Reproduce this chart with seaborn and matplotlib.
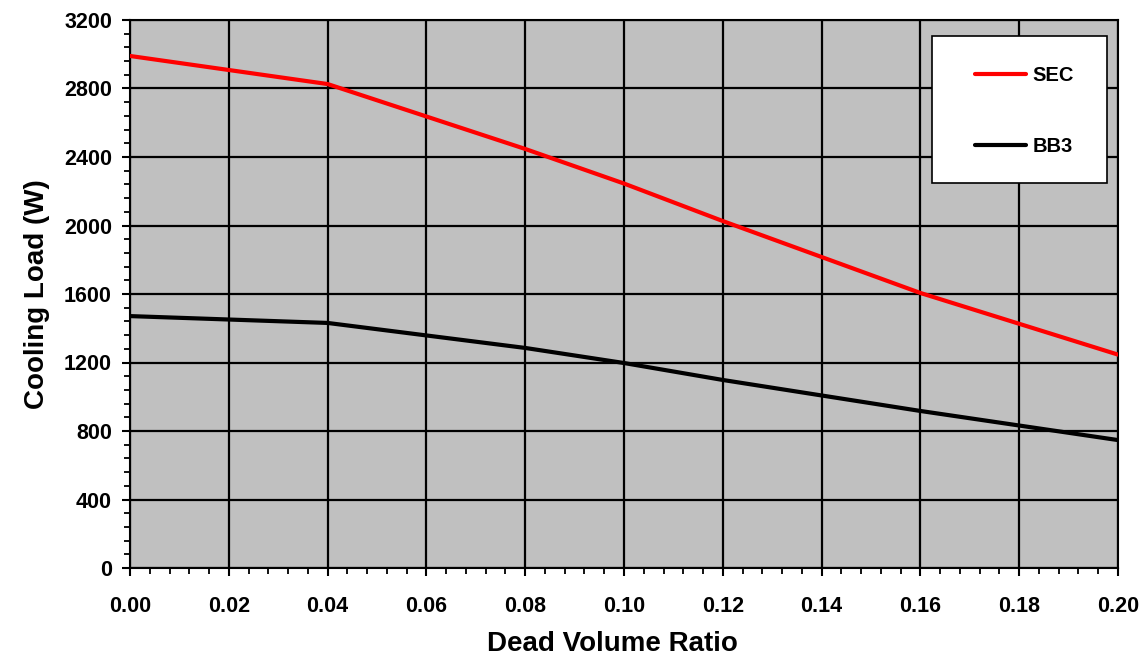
import matplotlib
matplotlib.use("Agg")
import matplotlib.pyplot as plt
from matplotlib.ticker import MultipleLocator, FormatStrFormatter
from matplotlib.lines import Line2D
from matplotlib.patches import Rectangle
import seaborn as sns
import pandas as pd

x_vals = [0.00, 0.04, 0.08, 0.10, 0.12, 0.16, 0.20]
sec_vals = [2990, 2826, 2447, 2245, 2026, 1606, 1246]
bb3_vals = [1471, 1431, 1285, 1197, 1098, 917, 747]
series_names = ["SEC", "BB3"]
colors = ["#FF0000", "#000000"]

df = pd.concat([
    pd.DataFrame({"x": x_vals, "y": sec_vals, "series": "SEC"}),
    pd.DataFrame({"x": x_vals, "y": bb3_vals, "series": "BB3"}),
])

sns.set_style("white")
plt.rcParams["font.family"] = ["Liberation Sans", "DejaVu Sans"]
plt.rcParams["font.weight"] = "bold"
plt.rcParams.update({
    "text.color": "black", "axes.labelcolor": "black",
    "xtick.color": "black", "ytick.color": "black",
    "xtick.bottom": True, "ytick.left": True,
})

fig = plt.figure(figsize=(11.42, 6.56), dpi=100)
ax = fig.add_axes([130/1142, 1-568/656, 988/1142, 548/656])
ax.set_facecolor("#C0C0C0")

sns.lineplot(data=df, x="x", y="y", hue="series", hue_order=series_names,
             palette=colors, linewidth=3, ax=ax, legend=False, zorder=3)

ax.set_xlim(0, 0.2)
ax.set_ylim(0, 3200)
ax.xaxis.set_major_locator(MultipleLocator(0.02))
ax.xaxis.set_minor_locator(MultipleLocator(0.004))
ax.yaxis.set_major_locator(MultipleLocator(400))
ax.yaxis.set_minor_locator(MultipleLocator(80))
ax.xaxis.set_major_formatter(FormatStrFormatter("%.2f"))
ax.grid(True, which="major", color="black", linewidth=1.6, zorder=1)
ax.set_axisbelow(True)
for s in ax.spines.values():
    s.set_color("black")
    s.set_linewidth(1.5)

ax.tick_params(axis="both", which="major", direction="out", length=6, width=1.5,
               labelsize=15.5, colors="black")
ax.tick_params(axis="both", which="minor", direction="out", length=4.5, width=1.3,
               colors="black")
ax.tick_params(axis="x", which="major", pad=14)
ax.tick_params(axis="y", which="major", pad=7)
for lab in ax.get_xticklabels() + ax.get_yticklabels():
    lab.set_fontweight("bold")

ax.set_xlabel("Dead Volume Ratio", fontsize=20, fontweight="bold")
ax.set_ylabel("Cooling Load (W)", fontsize=20, fontweight="bold")
ax.xaxis.label.set_va("baseline")
ax.xaxis.set_label_coords((612 - 130) / 988, -(651 - 568) / 548)
ax.yaxis.label.set_va("center")
ax.yaxis.set_label_coords(-(130 - 37) / 988, 0.5)

# legend box
ax.add_patch(Rectangle((0.812, 0.7026), 0.177, 0.2683, transform=ax.transAxes,
                       facecolor="white", edgecolor="black", linewidth=1.2, zorder=5))
handles = [Line2D([0], [0], color=c, lw=3) for c in colors]
leg = ax.legend(handles, series_names, loc="center", bbox_to_anchor=(0.905, 0.834),
                prop={"weight": "bold", "size": 14.5}, frameon=False,
                labelspacing=2.55, handlelength=2.55, handletextpad=0.3,
                borderpad=0, borderaxespad=0)
leg.set_zorder(6)

fig.savefig("out.png", dpi=100)
